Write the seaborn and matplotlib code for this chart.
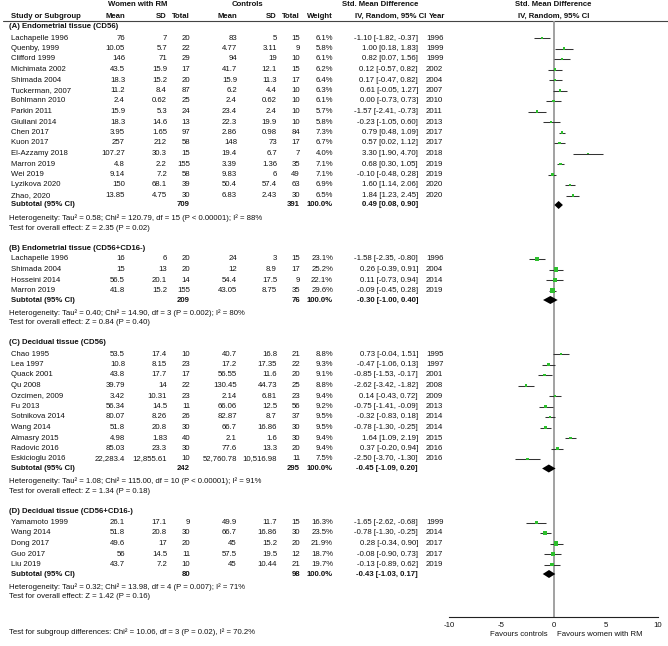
import matplotlib
matplotlib.use('Agg')
import matplotlib.pyplot as plt
import numpy as np
import pandas as pd
import seaborn as sns

# ---- data ----
group_titles = ['(A) Endometrial tissue (CD56)',
                '(B) Endometrial tissue (CD56+CD16-)',
                '(C) Decidual tissue (CD56)',
                '(D) Decidual tissue (CD56+CD16-)']

grp = [0] * 16 + [1] * 4 + [2] * 11 + [3] * 5

study = ['Lachapelle 1996', 'Quenby, 1999', 'Clifford 1999', 'Michimata 2002', 'Shimada 2004',
         'Tuckerman, 2007', 'Bohlmann 2010', 'Parkin 2011', 'Giuliani 2014', 'Chen 2017',
         'Kuon 2017', 'El-Azzamy 2018', 'Marron 2019', 'Wei 2019', 'Lyzikova 2020', 'Zhao, 2020',
         'Lachapelle 1996', 'Shimada 2004', 'Hosseini 2014', 'Marron 2019',
         'Chao 1995', 'Lea 1997', 'Quack 2001', 'Qu 2008', 'Ozcimen, 2009', 'Fu 2013',
         'Sotnikova 2014', 'Wang 2014', 'Almasry 2015', 'Radovic 2016', 'Eskicioglu 2016',
         'Yamamoto 1999', 'Wang 2014', 'Dong 2017', 'Guo 2017', 'Liu 2019']

mean_rm = ['76', '10.05', '146', '43.5', '18.3', '11.2', '2.4', '15.9', '18.3', '3.95',
           '257', '107.27', '4.8', '9.14', '150', '13.85',
           '16', '15', '56.5', '41.8',
           '53.5', '10.8', '43.8', '39.79', '3.42', '56.34', '80.07', '51.8', '4.98', '85.03', '22,283.4',
           '26.1', '51.8', '49.6', '56', '43.7']
sd_rm = ['7', '5.7', '71', '15.9', '15.2', '8.4', '0.62', '5.3', '14.6', '1.65',
         '212', '30.3', '2.2', '7.2', '68.1', '4.75',
         '6', '13', '20.1', '15.2',
         '17.4', '8.15', '17.7', '14', '10.31', '14.5', '8.26', '20.8', '1.83', '23.3', '12,855.61',
         '17.1', '20.8', '17', '14.5', '7.2']
n_rm = [20, 22, 29, 17, 20, 87, 25, 24, 13, 97, 58, 15, 155, 58, 39, 30,
        20, 20, 14, 155,
        10, 23, 17, 22, 23, 11, 26, 30, 40, 30, 10,
        9, 30, 20, 11, 10]
mean_ct = ['83', '4.77', '94', '41.7', '15.9', '6.2', '2.4', '23.4', '22.3', '2.86',
           '148', '19.4', '3.39', '9.83', '50.4', '6.83',
           '24', '12', '54.4', '43.05',
           '40.7', '17.2', '56.55', '130.45', '2.14', '66.06', '82.87', '66.7', '2.1', '77.6', '52,760.78',
           '49.9', '66.7', '45', '57.5', '45']
sd_ct = ['5', '3.11', '19', '12.1', '11.3', '4.4', '0.62', '2.4', '19.9', '0.98',
         '73', '6.7', '1.36', '6', '57.4', '2.43',
         '3', '8.9', '17.5', '8.75',
         '16.8', '17.35', '11.6', '44.73', '6.81', '12.5', '8.7', '16.86', '1.6', '13.3', '10,516.98',
         '11.7', '16.86', '15.2', '19.5', '10.44']
n_ct = [15, 9, 10, 15, 17, 10, 10, 10, 10, 84, 17, 7, 35, 49, 63, 30,
        15, 17, 9, 35,
        21, 22, 20, 25, 23, 56, 37, 30, 30, 20, 11,
        15, 30, 20, 12, 21]
weight = [6.1, 5.8, 6.1, 6.2, 6.4, 6.3, 6.1, 5.7, 5.8, 7.3, 6.7, 4.0, 7.1, 7.1, 6.9, 6.5,
          23.1, 25.2, 22.1, 29.6,
          8.8, 9.3, 9.1, 8.8, 9.4, 9.2, 9.5, 9.5, 9.4, 9.4, 7.5,
          16.3, 23.5, 21.9, 18.7, 19.7]
smd = [-1.10, 1.00, 0.82, 0.12, 0.17, 0.61, 0.00, -1.57, -0.23, 0.79, 0.57, 3.30, 0.68, -0.10, 1.60, 1.84,
       -1.58, 0.26, 0.11, -0.09,
       0.73, -0.47, -0.85, -2.62, 0.14, -0.75, -0.32, -0.78, 1.64, 0.37, -2.50,
       -1.65, -0.78, 0.28, -0.08, -0.13]
ci_lo = [-1.82, 0.18, 0.07, -0.57, -0.47, -0.05, -0.73, -2.41, -1.05, 0.48, 0.02, 1.90, 0.30, -0.48, 1.14, 1.23,
         -2.35, -0.39, -0.73, -0.45,
         -0.04, -1.06, -1.53, -3.42, -0.43, -1.41, -0.83, -1.30, 1.09, -0.20, -3.70,
         -2.62, -1.30, -0.34, -0.90, -0.89]
ci_hi = [-0.37, 1.83, 1.56, 0.82, 0.82, 1.27, 0.73, -0.73, 0.60, 1.09, 1.12, 4.70, 1.05, 0.28, 2.06, 2.45,
         -0.80, 0.91, 0.94, 0.28,
         1.51, 0.13, -0.17, -1.82, 0.72, -0.09, 0.18, -0.25, 2.19, 0.94, -1.30,
         -0.68, -0.25, 0.90, 0.73, 0.62]
year = [1996, 1999, 1999, 2002, 2004, 2007, 2010, 2011, 2013, 2017, 2017, 2018, 2019, 2019, 2020, 2020,
        1996, 2004, 2014, 2019,
        1995, 1997, 2001, 2008, 2009, 2013, 2014, 2014, 2015, 2016, 2016,
        1999, 2014, 2017, 2017, 2019]

sub_n_rm = [709, 209, 242, 80]
sub_n_ct = [391, 76, 295, 98]
sub_smd = [0.49, -0.30, -0.45, -0.43]
sub_lo = [0.08, -1.00, -1.09, -1.03]
sub_hi = [0.90, 0.40, 0.20, 0.17]
het_text = ['Heterogeneity: Tau² = 0.58; Chi² = 120.79, df = 15 (P < 0.00001); I² = 88%',
            'Heterogeneity: Tau² = 0.40; Chi² = 14.90, df = 3 (P = 0.002); I² = 80%',
            'Heterogeneity: Tau² = 1.08; Chi² = 115.00, df = 10 (P < 0.00001); I² = 91%',
            'Heterogeneity: Tau² = 0.32; Chi² = 13.98, df = 4 (P = 0.007); I² = 71%']
overall_text = ['Test for overall effect: Z = 2.35 (P = 0.02)',
                'Test for overall effect: Z = 0.84 (P = 0.40)',
                'Test for overall effect: Z = 1.34 (P = 0.18)',
                'Test for overall effect: Z = 1.42 (P = 0.16)']
subgroup_text = 'Test for subgroup differences: Chi² = 10.06, df = 3 (P = 0.02), I² = 70.2%'

# ---- layout ----
W, H = 668, 646
FS = 5.6
TXT = '#111111'
GREEN = '#2dbf2d'
cols = [125, 167, 190, 237, 277, 300, 333]   # right edges of the numeric columns
X_CI, X_YEAR = 418, 426
AX_L, AX_R, AX_TOP, AX_BOT = 449, 658, 21, 617

sns.set_style('white')
plt.rcParams['font.family'] = ['Liberation Sans', 'DejaVu Sans']

fig = plt.figure(figsize=(W / 100, H / 100), dpi=100)
tab = fig.add_axes([0, 0, 1, 1])
tab.set_xlim(0, W)
tab.set_ylim(H, 0)
tab.axis('off')


def txt(x, y, s, ha='left', bold=False):
    tab.text(x, y, s, ha=ha, va='center', fontsize=FS, color=TXT,
             fontweight='bold' if bold else 'normal')


# header
txt(138, 5, 'Women with RM', 'center', True)
txt(247, 5, 'Controls', 'center', True)
txt(380, 5, 'Std. Mean Difference', 'center', True)
txt(553.5, 5, 'Std. Mean Difference', 'center', True)
txt(11, 16, 'Study or Subgroup', bold=True)
for x, lab in zip(cols, ['Mean', 'SD', 'Total', 'Mean', 'SD', 'Total', 'Weight']):
    txt(x, 16, lab, 'right', True)
txt(426, 16, 'IV, Random, 95% CI', 'right', True)
txt(429, 16, 'Year', bold=True)
txt(553.5, 16, 'IV, Random, 95% CI', 'center', True)
tab.plot([3, W], [21, 21], color='#444444', lw=0.8)

# rows
df = pd.DataFrame(dict(study=study, grp=grp, weight=weight, smd=smd, lo=ci_lo, hi=ci_hi))
row_y = []
sub_y = []
y = 27
for g, title in enumerate(group_titles):
    if g > 0:
        y += 20
    txt(9, y, title, bold=True)
    y += 11
    idx = [i for i, gg in enumerate(grp) if gg == g]
    for k, i in enumerate(idx):
        if k > 0:
            y += 10.5
        row_y.append(y)
        txt(11, y, study[i])
        vals = [mean_rm[i], sd_rm[i], n_rm[i], mean_ct[i], sd_ct[i], n_ct[i], f'{weight[i]:.1f}%']
        for x, v in zip(cols, vals):
            txt(x, y, str(v), 'right')
        txt(X_CI, y, f'{smd[i]:.2f} [{ci_lo[i]:.2f}, {ci_hi[i]:.2f}]', 'right')
        txt(X_YEAR, y, str(year[i]))
    y += 9.5
    sub_y.append(y)
    txt(11, y, 'Subtotal (95% CI)', bold=True)
    txt(cols[2], y, str(sub_n_rm[g]), 'right', True)
    txt(cols[5], y, str(sub_n_ct[g]), 'right', True)
    txt(cols[6], y, '100.0%', 'right', True)
    txt(X_CI, y, f'{sub_smd[g]:.2f} [{sub_lo[g]:.2f}, {sub_hi[g]:.2f}]', 'right', True)
    y += 13
    txt(9, y, het_text[g])
    y += 10
    txt(9, y, overall_text[g])

txt(9, 632, subgroup_text)
txt(548, 634, 'Favours controls', 'right')
txt(557, 634, 'Favours women with RM')
df['y'] = row_y

# ---- forest panel ----
fax = fig.add_axes([AX_L / W, (H - AX_BOT) / H, (AX_R - AX_L) / W, (AX_BOT - AX_TOP) / H])
fax.set_facecolor('none')
fax.set_xlim(-10, 10)
fax.set_ylim(AX_BOT, AX_TOP)
fax.axvline(0, color='#9a9a9a', lw=1.3, zorder=1)
fax.hlines(df['y'], df['lo'], df['hi'], color='#333333', lw=0.75, zorder=2)
sns.scatterplot(data=df, x='smd', y='y', size='weight', sizes=(0.38 * min(weight), 0.38 * max(weight)),
                marker='s', color=GREEN, linewidth=0, legend=False, ax=fax, zorder=3)
for g in range(len(group_titles)):
    yy = sub_y[g]
    fax.fill([sub_lo[g], sub_smd[g], sub_hi[g], sub_smd[g]], [yy, yy - 4, yy, yy + 4],
             color='black', lw=0, zorder=4)

for s in ['top', 'left', 'right']:
    fax.spines[s].set_visible(False)
fax.spines['bottom'].set_color('#222222')
fax.spines['bottom'].set_linewidth(0.8)
fax.set_yticks([])
fax.set_xticks([-10, -5, 0, 5, 10])
fax.set_xticklabels(['-10', '-5', '0', '5', '10'])
fax.tick_params(axis='x', direction='inout', length=5, width=0.8, color='#222222',
                labelsize=FS, pad=1, labelcolor=TXT)
fax.set_xlabel('')
fax.set_ylabel('')

fig.savefig('out.png', dpi=100)
